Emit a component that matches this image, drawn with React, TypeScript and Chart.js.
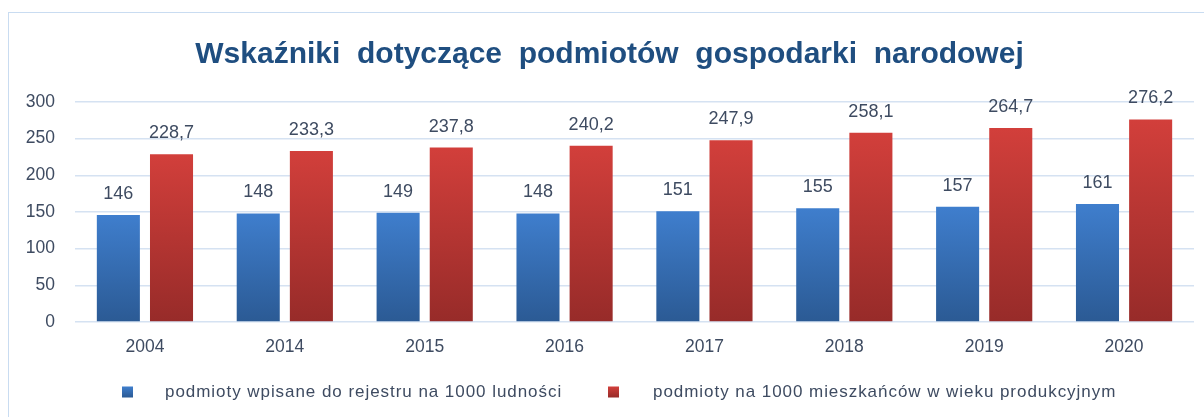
import React, { useEffect, useRef } from "react";
import { Chart, registerables } from "chart.js";

Chart.register(...registerables);

const titleText = "Wskaźniki  dotyczące  podmiotów  gospodarki  narodowej";
const categories = ["2004", "2014", "2015", "2016", "2017", "2018", "2019", "2020"];
const seriesNames = [
  "podmioty wpisane do rejestru na 1000 ludności",
  "podmioty na 1000 mieszkańców w wieku produkcyjnym",
];
const registeredPer1000 = [146, 148, 149, 148, 151, 155, 157, 161];
const perWorkingAge1000 = [228.7, 233.3, 237.8, 240.2, 247.9, 258.1, 264.7, 276.2];
const yTicks = [0, 50, 100, 150, 200, 250, 300];

const BLUE_TOP = "#3F7ECD";
const BLUE_BOTTOM = "#2B5A94";
const RED_TOP = "#D23F3B";
const RED_BOTTOM = "#972B29";
const TEXT = "#3E4B61";

function gradientFor(top: string, bottom: string) {
  return (ctx: any) => {
    const chart = ctx.chart;
    const area = chart.chartArea;
    const y = chart.scales && chart.scales.y;
    if (!area || !y || ctx.raw == null) return top;
    const yTop = y.getPixelForValue(ctx.raw);
    const yBot = y.getPixelForValue(0);
    if (!isFinite(yTop) || !isFinite(yBot) || yTop === yBot) return top;
    const g = chart.ctx.createLinearGradient(0, yTop, 0, yBot);
    g.addColorStop(0, top);
    g.addColorStop(1, bottom);
    return g;
  };
}

const valueLabels = {
  id: "valueLabels",
  afterDatasetsDraw(chart: any) {
    const ctx = chart.ctx;
    ctx.save();
    ctx.font = '18px "Liberation Sans", Arial, sans-serif';
    ctx.fillStyle = TEXT;
    ctx.textAlign = "center";
    ctx.textBaseline = "alphabetic";
    chart.data.datasets.forEach((ds: any, di: number) => {
      const meta = chart.getDatasetMeta(di);
      meta.data.forEach((el: any, i: number) => {
        const v = ds.data[i];
        const txt = String(v).replace(".", ",");
        ctx.fillText(txt, el.x, el.y - 16);
      });
    });
    ctx.restore();
  },
};

const customLegend = {
  id: "customLegend",
  afterDraw(chart: any, _args: any, opts: any) {
    const ctx = chart.ctx;
    ctx.save();
    ctx.font = '17px "Liberation Sans", Arial, sans-serif';
    try {
      (ctx as any).letterSpacing = "0.95px";
    } catch (e) {}
    ctx.textBaseline = "middle";
    ctx.textAlign = "left";
    chart.data.datasets.forEach((ds: any, i: number) => {
      const item = opts.items[i];
      const g = ctx.createLinearGradient(0, opts.y - 5.5, 0, opts.y + 5.5);
      g.addColorStop(0, ds.legendTop);
      g.addColorStop(1, ds.legendBottom);
      ctx.fillStyle = g;
      ctx.fillRect(item.box, opts.y - 5.5, 11, 11);
      ctx.fillStyle = TEXT;
      ctx.fillText(ds.label, item.text, opts.y);
    });
    ctx.restore();
  },
};

export default function App() {
  const ref = useRef<HTMLCanvasElement | null>(null);

  useEffect(() => {
    if (!ref.current) return;
    const chart = new Chart(ref.current, {
      type: "bar",
      data: {
        labels: categories,
        datasets: [
          {
            label: seriesNames[0],
            data: registeredPer1000,
            backgroundColor: gradientFor(BLUE_TOP, BLUE_BOTTOM),
            borderWidth: 0,
            barPercentage: 0.81,
            categoryPercentage: 0.76,
            legendTop: BLUE_TOP,
            legendBottom: BLUE_BOTTOM,
          } as any,
          {
            label: seriesNames[1],
            data: perWorkingAge1000,
            backgroundColor: gradientFor(RED_TOP, RED_BOTTOM),
            borderWidth: 0,
            barPercentage: 0.81,
            categoryPercentage: 0.76,
            legendTop: RED_TOP,
            legendBottom: RED_BOTTOM,
          } as any,
        ],
      },
      options: {
        responsive: false,
        animation: false,
        devicePixelRatio: 1,
        layout: { padding: { left: 25, right: 10, top: 0, bottom: 55 } },
        plugins: {
          legend: { display: false },
          tooltip: { enabled: false },
          title: {
            display: true,
            text: titleText,
            color: "#1F4E80",
            font: { family: '"Liberation Sans", Arial, sans-serif', size: 30, weight: "bold", lineHeight: 1.2 },
            padding: { top: 37, bottom: 29 },
          },
          customLegend: {
            y: 392,
            items: [
              { box: 122, text: 165 },
              { box: 608, text: 653 },
            ],
          },
        } as any,
        scales: {
          x: {
            grid: { display: false, drawTicks: false },
            border: { display: false },
            ticks: {
              color: TEXT,
              padding: 15,
              font: { family: '"Liberation Sans", Arial, sans-serif', size: 17.5 },
            },
            afterFit(scale: any) {
              scale.height = 40;
            },
          },
          y: {
            min: 0,
            max: 300,
            afterBuildTicks(scale: any) {
              scale.ticks = yTicks.map((v) => ({ value: v }));
            },
            grid: { color: "#D5E2F2", lineWidth: 1.5, drawTicks: false },
            border: { display: false },
            ticks: {
              color: TEXT,
              padding: 20,
              font: { family: '"Liberation Sans", Arial, sans-serif', size: 17.5 },
            },
            afterFit(scale: any) {
              scale.width = 50;
            },
          },
        },
      },
      plugins: [valueLabels, customLegend],
    });
    return () => chart.destroy();
  }, []);

  return (
    <div
      style={{
        position: "absolute",
        left: 0,
        top: 0,
        width: 1204,
        height: 417,
        overflow: "hidden",
        background: "#ffffff",
      }}
    >
      <div
        style={{
          position: "absolute",
          left: 8,
          top: 12,
          width: 1300,
          height: 500,
          border: "1.5px solid #C9DCF1",
          boxSizing: "border-box",
        }}
      />
      <canvas
        ref={ref}
        width={1204}
        height={417}
        style={{ position: "absolute", left: 0, top: 0, display: "block" }}
      />
    </div>
  );
}
